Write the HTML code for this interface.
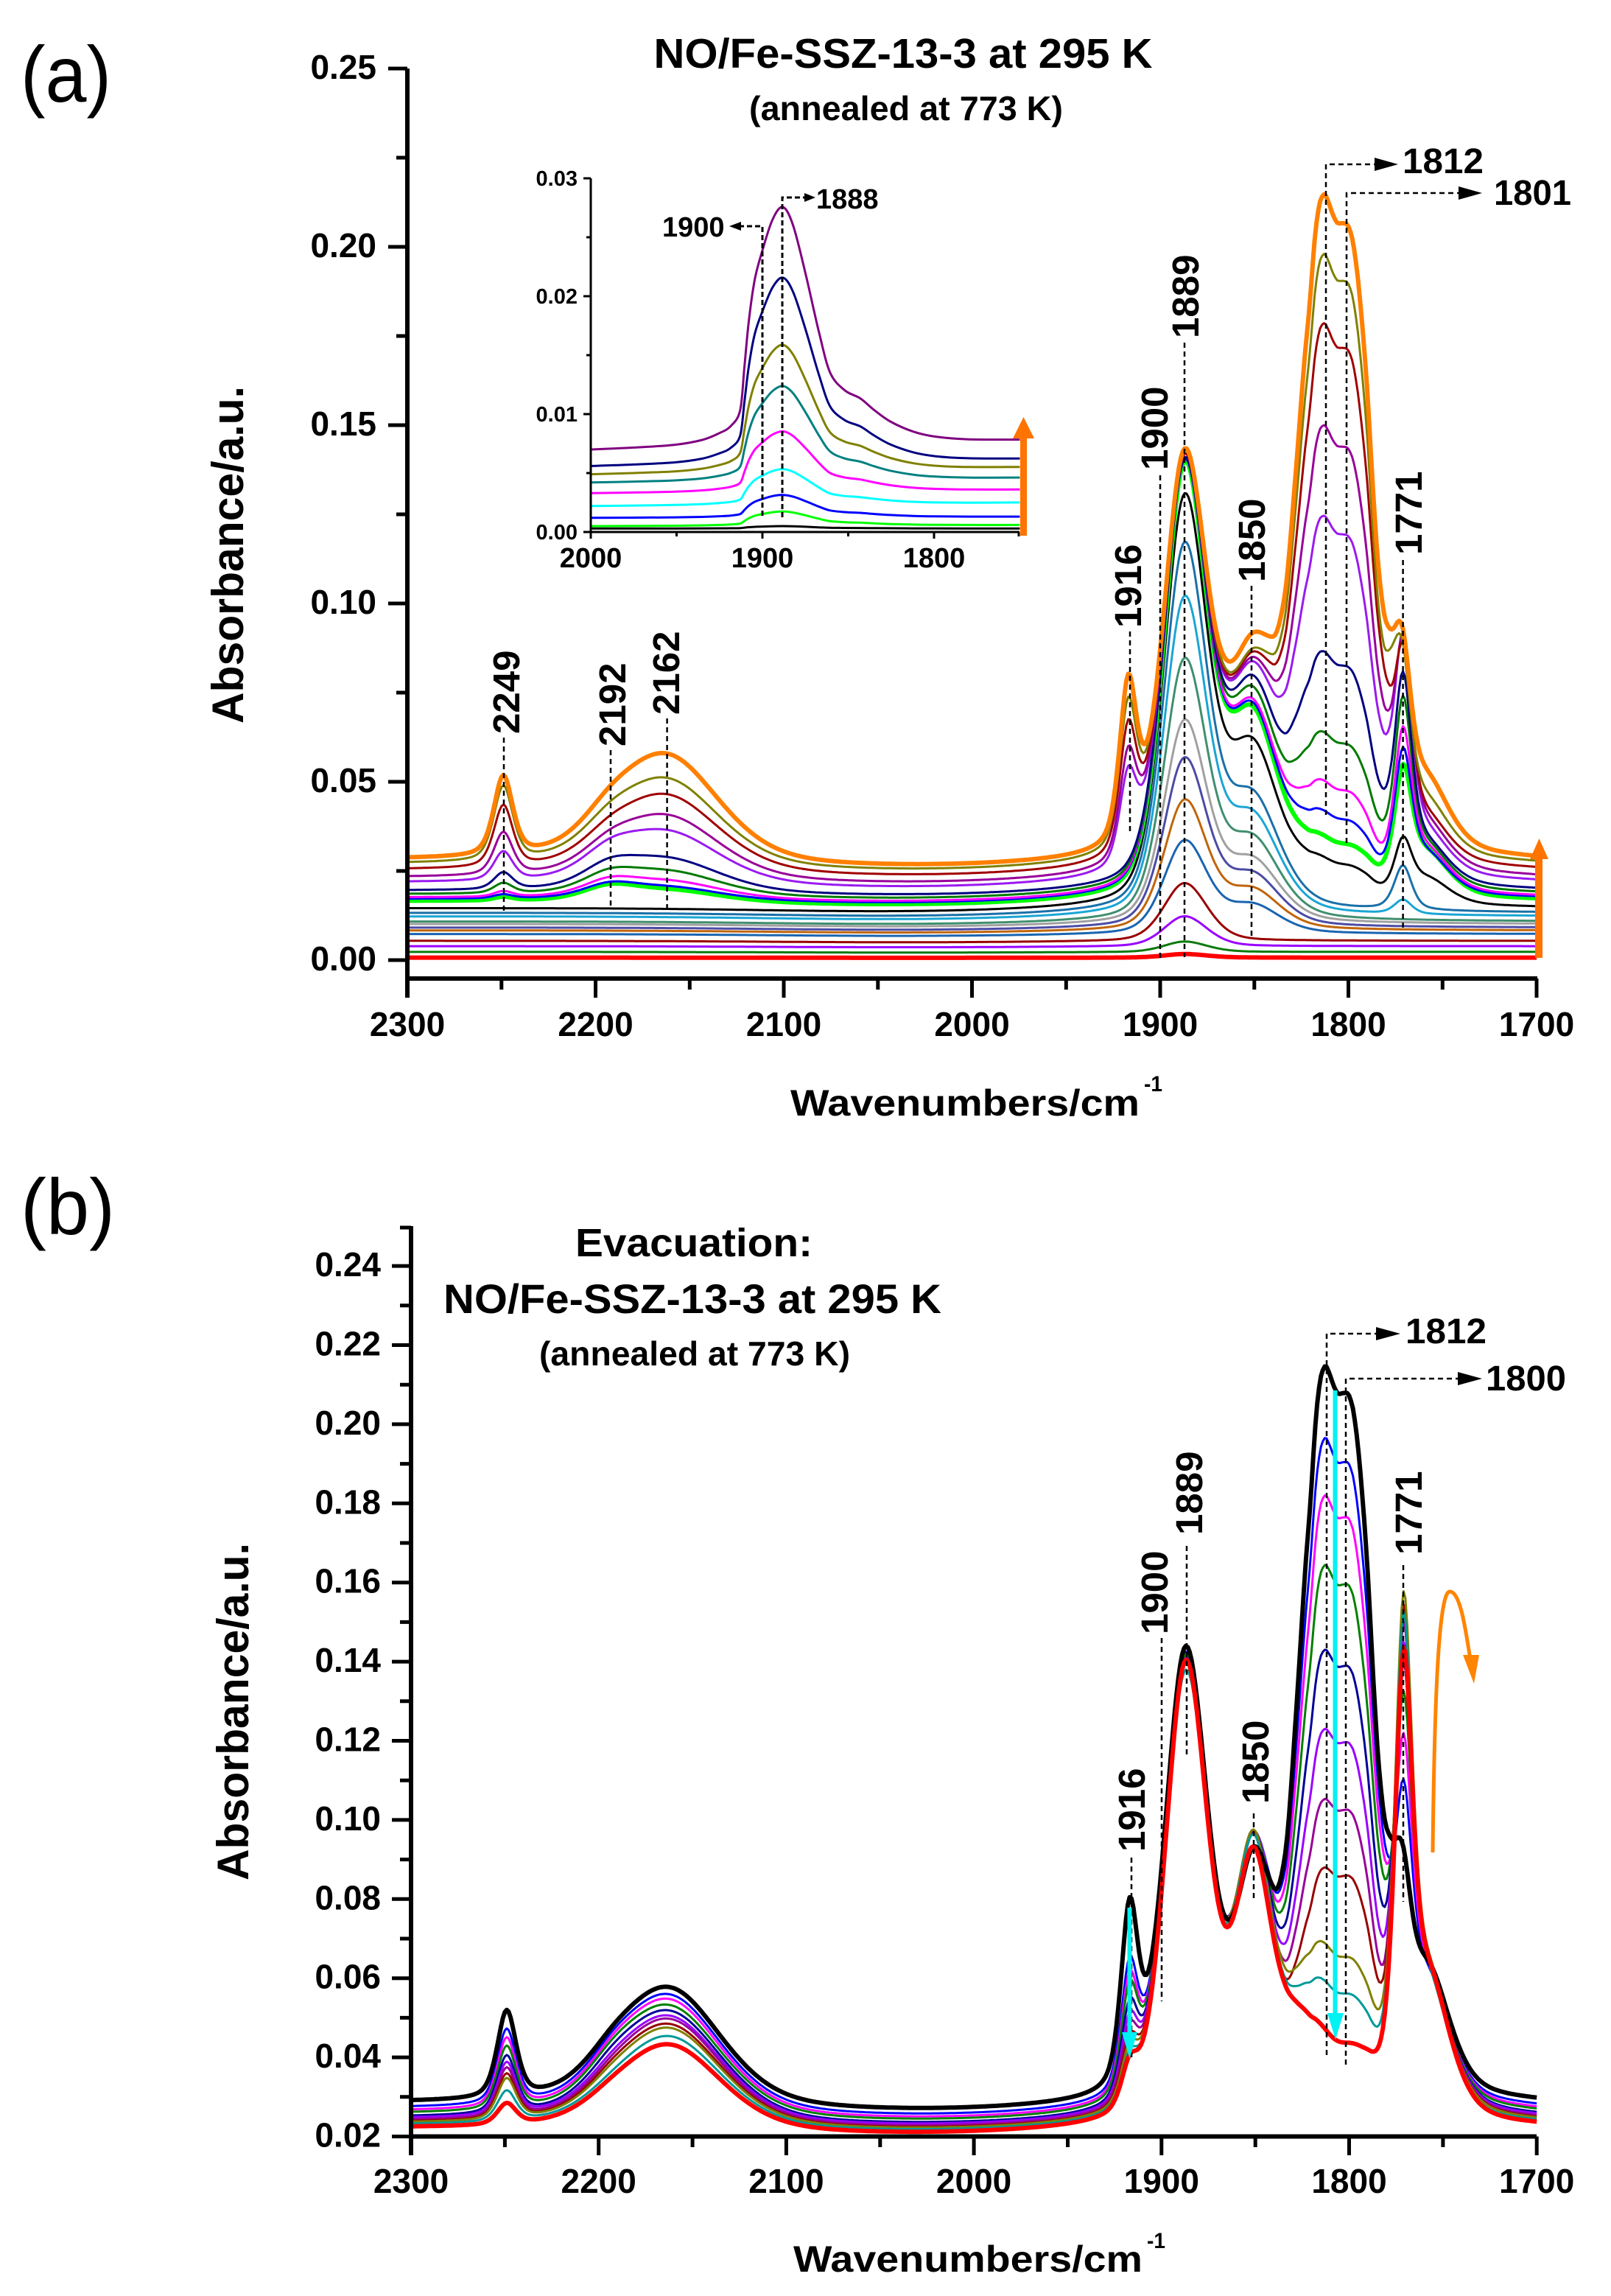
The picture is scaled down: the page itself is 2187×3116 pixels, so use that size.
<!DOCTYPE html>
<html><head><meta charset="utf-8"><style>
html,body{margin:0;padding:0;background:#fff;}
svg{display:block;}
</style></head><body>
<svg id="chart" width="2187" height="3116" viewBox="0 0 2187 3116" xmlns="http://www.w3.org/2000/svg" font-family="'Liberation Sans', Arial, sans-serif" font-weight="bold">
<rect width="2187" height="3116" fill="#fff"/>

<!-- ================= PANEL A ================= -->
<text x="28" y="138" font-size="108" font-weight="normal" textLength="123" lengthAdjust="spacingAndGlyphs">(a)</text>
<text x="1226" y="92" font-size="57" text-anchor="middle" textLength="677" lengthAdjust="spacingAndGlyphs">NO/Fe-SSZ-13-3 at 295 K</text>
<text x="1230" y="163" font-size="46" text-anchor="middle" textLength="426" lengthAdjust="spacingAndGlyphs">(annealed at 773 K)</text>

<g id="ca"></g>

<g stroke="#000" fill="none">
<path d="M553 93V1354M553 1328H2087" stroke-width="6"/>
<path stroke-width="5" d="M527 1303H553M527 1061H553M527 819H553M527 577H553M527 335H553M527 93H553M538 1182H553M538 940H553M538 698H553M538 456H553M538 214H553M808.5 1328V1354M1064 1328V1354M1319.5 1328V1354M1575 1328V1354M1830.5 1328V1354M2086 1328V1354M680.8 1328V1343M936.3 1328V1343M1191.8 1328V1343M1447.3 1328V1343M1702.8 1328V1343M1958.3 1328V1343"/>
</g>
<g font-size="46" text-anchor="end">
<text x="511" y="1317">0.00</text><text x="511" y="1075">0.05</text><text x="511" y="833">0.10</text><text x="511" y="591">0.15</text><text x="511" y="349">0.20</text><text x="511" y="107">0.25</text>
</g>
<g font-size="46" text-anchor="middle">
<text x="553" y="1406">2300</text><text x="808.5" y="1406">2200</text><text x="1064" y="1406">2100</text><text x="1319.5" y="1406">2000</text><text x="1575" y="1406">1900</text><text x="1830.5" y="1406">1800</text><text x="2086" y="1406">1700</text>
</g>
<text transform="translate(330 982) rotate(-90)" font-size="60" textLength="458" lengthAdjust="spacingAndGlyphs">Absorbance/a.u.</text>
<text x="1073" y="1514" font-size="50" textLength="474" lengthAdjust="spacingAndGlyphs">Wavenumbers/cm</text>
<text x="1553" y="1481" font-size="30" textLength="25" lengthAdjust="spacingAndGlyphs">-1</text>

<!-- dashed markers a -->
<path d="M684 1001V1238M829 1018V1230M905.6 975V1238M1534 857V1128M1575 645V1304M1608 465V1299M1699 795V1272M1904.6 760V1261M1800 1106V223H1866M1828 1144V262H1980" stroke="#000" stroke-width="2.5" stroke-dasharray="7 5" fill="none"/>
<polygon points="1866,214 1898,223 1866,232" fill="#000"/>
<polygon points="1980,253 2012,262 1980,271" fill="#000"/>
<text x="1904" y="235" font-size="48" textLength="110" lengthAdjust="spacingAndGlyphs">1812</text>
<text x="2028" y="278" font-size="48" textLength="105" lengthAdjust="spacingAndGlyphs">1801</text>
<g font-size="51">
<text transform="translate(705 996) rotate(-90)">2249</text>
<text transform="translate(849 1013) rotate(-90)">2192</text>
<text transform="translate(922 970) rotate(-90)">2162</text>
<text transform="translate(1549 852) rotate(-90)">1916</text>
<text transform="translate(1585 638) rotate(-90)">1900</text>
<text transform="translate(1627 459) rotate(-90)">1889</text>
<text transform="translate(1717 790) rotate(-90)">1850</text>
<text transform="translate(1930 753) rotate(-90)">1771</text>
</g>

<!-- inset -->
<g id="ci"></g>
<g stroke="#000" fill="none" stroke-width="3">
<path d="M802 242V731M802 722H1384"/>
<path d="M792 722H802M792 562H802M792 402H802M792 242H802M796 642H802M796 482H802M796 322H802M1035 722V731M1268 722V731M918.5 722V728M1151.5 722V728M1383 722V728"/>
</g>
<g font-size="29" text-anchor="end">
<text x="784" y="732">0.00</text><text x="784" y="572">0.01</text><text x="784" y="412">0.02</text><text x="784" y="252">0.03</text>
</g>
<g font-size="38" text-anchor="middle">
<text x="802" y="770">2000</text><text x="1035" y="770">1900</text><text x="1268" y="770">1800</text>
</g>
<path d="M1035 700V307H1004M1062 702V268H1093" stroke="#000" stroke-width="3" stroke-dasharray="7 4" fill="none"/>
<polygon points="1006,301 1006,313 990,307" fill="#000"/>
<polygon points="1092,262 1092,274 1107,268" fill="#000"/>
<text x="899" y="321" font-size="38">1900</text>
<text x="1108" y="283" font-size="38">1888</text>

<rect x="1385" y="592" width="9" height="135" fill="#ff7300"/>
<polygon points="1375,595 1404,595 1389.5,566" fill="#ff7300"/>
<rect x="2084" y="1163" width="10" height="137" fill="#ff7300"/>
<polygon points="2077,1166 2102,1166 2089.5,1138" fill="#ff7300"/>

<!-- ================= PANEL B ================= -->
<text x="28" y="1675" font-size="108" font-weight="normal" textLength="128" lengthAdjust="spacingAndGlyphs">(b)</text>
<text x="942" y="1705" font-size="54" text-anchor="middle" textLength="322" lengthAdjust="spacingAndGlyphs">Evacuation:</text>
<text x="940" y="1782" font-size="56" text-anchor="middle" textLength="676" lengthAdjust="spacingAndGlyphs">NO/Fe-SSZ-13-3 at 295 K</text>
<text x="943" y="1853" font-size="46" text-anchor="middle" textLength="422" lengthAdjust="spacingAndGlyphs">(annealed at 773 K)</text>

<g id="cb"></g>

<g stroke="#000" fill="none">
<path d="M558 1664V2925M558 2899.5H2086" stroke-width="6"/>
<path stroke-width="5" d="M532 2899.5H558M532 2792.1H558M532 2684.7H558M532 2577.3H558M532 2469.9H558M532 2362.5H558M532 2255.1H558M532 2147.7H558M532 2040.3H558M532 1932.9H558M532 1825.5H558M532 1718.1H558M543 2845.8H558M543 2738.4H558M543 2631H558M543 2523.6H558M543 2416.2H558M543 2308.8H558M543 2201.4H558M543 2094H558M543 1986.6H558M543 1879.2H558M543 1771.8H558M543 1666H558M812.7 2899.5V2925M1067.4 2899.5V2925M1322.1 2899.5V2925M1576.8 2899.5V2925M1831.5 2899.5V2925M2086.2 2899.5V2925M685.4 2899.5V2914M940.1 2899.5V2914M1194.8 2899.5V2914M1449.5 2899.5V2914M1704.2 2899.5V2914M1958.9 2899.5V2914"/>
</g>
<g font-size="46" text-anchor="end">
<text x="517" y="2913.5">0.02</text><text x="517" y="2806">0.04</text><text x="517" y="2698.7">0.06</text><text x="517" y="2591.3">0.08</text><text x="517" y="2483.9">0.10</text><text x="517" y="2376.5">0.12</text><text x="517" y="2269">0.14</text><text x="517" y="2161.7">0.16</text><text x="517" y="2054.3">0.18</text><text x="517" y="1946.9">0.20</text><text x="517" y="1839.5">0.22</text><text x="517" y="1732">0.24</text>
</g>
<g font-size="46" text-anchor="middle">
<text x="558" y="2976">2300</text><text x="812.7" y="2976">2200</text><text x="1067.4" y="2976">2100</text><text x="1322.1" y="2976">2000</text><text x="1576.8" y="2976">1900</text><text x="1831.5" y="2976">1800</text><text x="2086.2" y="2976">1700</text>
</g>
<text transform="translate(337 2552) rotate(-90)" font-size="60" textLength="458" lengthAdjust="spacingAndGlyphs">Absorbance/a.u.</text>
<text x="1077" y="3083" font-size="50" textLength="474" lengthAdjust="spacingAndGlyphs">Wavenumbers/cm</text>
<text x="1557" y="3051" font-size="30" textLength="25" lengthAdjust="spacingAndGlyphs">-1</text>

<path d="M1611 2098V2381M1577 2223V2716M1905 2124V2581M1536 2521V2794M1702 2461V2581M1801 2789V1810H1868M1827 2802V1871H1979" stroke="#000" stroke-width="2.5" stroke-dasharray="7 5" fill="none"/>
<polygon points="1868,1801 1901,1810 1868,1819" fill="#000"/>
<polygon points="1979,1862 2012,1871 1979,1880" fill="#000"/>
<text x="1908" y="1823" font-size="48" textLength="110" lengthAdjust="spacingAndGlyphs">1812</text>
<text x="2017" y="1887" font-size="48" textLength="109" lengthAdjust="spacingAndGlyphs">1800</text>
<g font-size="51">
<text transform="translate(1632 2083) rotate(-90)">1889</text>
<text transform="translate(1585 2218) rotate(-90)">1900</text>
<text transform="translate(1930 2110) rotate(-90)">1771</text>
<text transform="translate(1554 2513) rotate(-90)">1916</text>
<text transform="translate(1722 2448) rotate(-90)">1850</text>
</g>

<rect x="1809.5" y="1887" width="6" height="848" fill="#00f2f2"/>
<polygon points="1802,2732 1824,2732 1813,2768" fill="#00f2f2"/>
<rect x="1530.5" y="2589" width="6" height="172" fill="#00f2f2"/>
<polygon points="1523,2758 1544,2758 1533.5,2794" fill="#00f2f2"/>

<path d="M1945 2514C1947 2330 1952 2160 1968 2160C1983 2160 1990 2215 1996 2252" stroke="#ff8400" stroke-width="5" fill="none"/>
<polygon points="1986,2246 2008,2246 2001,2285" fill="#ff8400"/>
</svg>

<script>
(function(){
var NS='http://www.w3.org/2000/svg';
function pv(w,c,h,e){var x=(w-c)/h,x2=x*x;return e/(1+x2)+(1-e)*Math.exp(-0.6931*x2);}
function pva(w,c,hl,hr,e){return pv(w,c,w>c?hl:hr,e);}
function pchip(knots){
 var k=knots.slice().sort(function(a,b){return a[0]-b[0];});var n=k.length;
 var x=k.map(function(p){return p[0];}),y=k.map(function(p){return p[1];});
 var h=[],d=[],m=[],i;
 for(i=0;i<n-1;i++){h[i]=x[i+1]-x[i];d[i]=(y[i+1]-y[i])/h[i];}
 m[0]=d[0];m[n-1]=d[n-2];
 for(i=1;i<n-1;i++){if(d[i-1]*d[i]<=0)m[i]=0;else{var w1=2*h[i]+h[i-1],w2=h[i]+2*h[i-1];m[i]=(w1+w2)/(w1/d[i-1]+w2/d[i]);}}
 return function(v){if(v<=x[0])return y[0];if(v>=x[n-1])return y[n-1];var j=0;while(v>x[j+1])j++;
  var t=(v-x[j])/h[j],t2=t*t,t3=t2*t;
  return (2*t3-3*t2+1)*y[j]+(t3-2*t2+t)*h[j]*m[j]+(-2*t3+3*t2)*y[j+1]+(t3-t2)*h[j]*m[j+1];};
}
var band=pchip([[1870,0],[1860,0.01],[1850,0.04],[1840,0.12],[1834,0.25],[1828,0.5],[1823,0.72],[1821,0.79],[1817,0.945],[1814.5,0.99],[1812.5,1],[1810.5,0.99],[1808,0.972],[1805.5,0.962],[1803,0.963],[1801,0.962],[1798.5,0.945],[1796,0.9],[1792.5,0.79],[1790,0.68],[1787,0.5],[1784,0.33],[1780,0.17],[1775,0.07],[1768,0.03],[1755,0.012],[1730,0.004],[1700,0]]);
function makeF(h50){return {
 '1887':function(w){return pva(w,1887,13,14,.3);},
 '1850':function(w){return pv(w,1851,h50,.4);},
 '1918':function(w){return pv(w,1917,5.5,.5);},
 '1830':function(w){return pv(w,1829,12,.3);},
 '1813':function(w){return band(w);},
 '1781':function(w){return pv(w,1781,6,.3);},
 '1776':function(w){return pv(w,1776,5,.3);},
 '1771':function(w){return pv(w,1771,5.5,.5);},
 '1748':function(w){return pv(w,1758,14,.5);},
 '2249':function(w){return pv(w,2249,6,.5);},
 '2163':function(w){return pv(w,2163,33,.3);},
 '2192':function(w){return pv(w,2193,16,.3);}
};}
function base(w,b){return b*(1-0.08*Math.exp(-Math.pow((w-2030)/110,2)));}
function gauss(M,r){var n=r.length;var A=M.map(function(row,i){return row.concat([r[i]]);});
 for(var c=0;c<n;c++){var p=c;for(var i=c+1;i<n;i++)if(Math.abs(A[i][c])>Math.abs(A[p][c]))p=i;var t=A[c];A[c]=A[p];A[p]=t;
  for(i=0;i<n;i++){if(i===c)continue;var f=A[i][c]/A[c][c];for(var j=c;j<=n;j++)A[i][j]-=f*A[c][j];}}
 return A.map(function(row,i){return row[n]/row[i];});}
function solve(F,t,b){var keys=Object.keys(t);var amp={};
 for(var it=0;it<14;it++){if(!keys.length){amp={};break;}
  var M=keys.map(function(ki){return keys.map(function(kj){return F[kj](+ki);});});
  var r=keys.map(function(k){return t[k]-base(+k,b);});
  var x=gauss(M,r);amp={};var neg=[];
  keys.forEach(function(k,i){amp[k]=x[i];if(!(x[i]>=0))neg.push(k);});
  if(!neg.length)break;
  keys=keys.filter(function(k){return neg.indexOf(k)<0;});}
 for(var k in amp){if(!(amp[k]>0))delete amp[k];}
 return amp;}
function spectrum(F,b,t,X,Y){var amp=solve(F,t,b);var d='';
 for(var w=2300;w>=1700;w-=1){var v=base(w,b);for(var k in amp)v+=amp[k]*F[k](w);
  d+=(w===2300?'M':'L')+X(w).toFixed(1)+' '+Y(v).toFixed(1);}
 return d;}
function addPath(g,d,col,sw){var p=document.createElementNS(NS,'path');p.setAttribute('d',d);p.setAttribute('stroke',col);
 p.setAttribute('stroke-width',sw);p.setAttribute('fill','none');p.setAttribute('stroke-linejoin','round');g.appendChild(p);}

/* ---------- panel a ---------- */
var Fa=makeF(17);
var Xa=function(w){return 553+(2300-w)*2.555;};
var Ya=function(v){return 1303-v*4840;};
var A=[
 ['#ff0000',6,0.0007,{1887:0.0017}],
 ['#0a7a0a',3,0.0023,{1887:0.0052}],
 ['#9900ff',3,0.0039,{1887:0.0123}],
 ['#990000',3,0.0054,{1887:0.0216}],
 ['#1a64b0',3,0.0073,{1887:0.0337}],
 ['#c0650a',3,0.0083,{1887:0.0451}],
 ['#4b4ba5',3,0.0091,{1887:0.0569}],
 ['#a0a0a0',3,0.0101,{1887:0.0675}],
 ['#3f8f6f',3,0.0108,{1887:0.0848}],
 ['#1aa5d5',3,0.0122,{1887:0.1022,1771:0.017}],
 ['#1a70a8',3,0.0132,{1887:0.1173,1771:0.0266}],
 ['#000000',3,0.0145,{1887:0.1309,1850:0.062,1813:0.029,1781:0.022,1771:0.0347,1748:0.0205}],
 ['#00ff00',6,0.0165,{1887:0.140,1850:0.0708,1813:0.035,1781:0.027,1771:0.055,1748:0.026,2163:0.0201,2192:0.0214,2249:0.0178}],
 ['#0000ff',3,0.0171,{1887:0.1405,1850:0.072,1813:0.042,1781:0.029,1771:0.0597,1748:0.026,2163:0.0209,2192:0.022,2249:0.0185}],
 ['#ff00ff',3,0.0175,{1887:0.141,1850:0.073,1813:0.0504,1781:0.033,1771:0.0656,1748:0.027,2163:0.0226,2192:0.0234,2249:0.0194}],
 ['#007a00',3,0.0184,{1887:0.141,1850:0.0765,1813:0.064,1781:0.0395,1771:0.0742,1748:0.028,2163:0.0254,2192:0.0258,2249:0.0217}],
 ['#000080',3,0.0194,{1887:0.141,1850:0.0797,1813:0.0866,1781:0.048,1771:0.081,1748:0.029,2163:0.029,2192:0.0288,2249:0.0247}],
 ['#9a1af0',3,0.0217,{1887:0.142,1850:0.0837,1918:0.053,1813:0.1246,1781:0.0636,1771:0.092,1748:0.032,2163:0.0366,2192:0.0343,2249:0.0306}],
 ['#990099',3,0.0231,{1887:0.142,1850:0.085,1918:0.0585,1813:0.150,1781:0.0715,1771:0.091,1748:0.034,2163:0.0409,2192:0.0368,2249:0.036}],
 ['#a00000',3,0.0252,{1887:0.142,1850:0.0866,1918:0.0658,1813:0.1786,1781:0.082,1771:0.089,1748:0.036,2163:0.0466,2192:0.0407,2249:0.0436}],
 ['#808000',3,0.0269,{1887:0.143,1850:0.0876,1918:0.072,1813:0.198,1781:0.088,1776:0.089,1771:0.0888,1748:0.0395,2163:0.0512,2192:0.0446,2249:0.049}],
 ['#ff8000',6,0.0281,{1887:0.1435,1850:0.092,1918:0.0783,1813:0.2147,1781:0.097,1776:0.093,1771:0.0928,1748:0.044,2163:0.058,2192:0.049,2249:0.0519}]
];
var ga=document.getElementById('ca');
A.forEach(function(c){var t=c[3];
 if(t[1850]===undefined && t[1887]-c[2]>0.02) t[1850]=c[2]+0.33*(t[1887]-c[2]);
 addPath(ga,spectrum(Fa,c[2],t,Xa,Ya),c[0],c[1]);});

/* ---------- panel b ---------- */
var Fb=makeF(12);
var Xb=function(w){return 558+(2300-w)*2.547;};
var Yb=function(v){return 2899.5-(v-0.02)*5370;};
function tb(a,b,c,d,x,e,f,g,h,i){return {1887:a,1850:b,1918:c,1813:d,1781:x,1771:e,1748:f,2249:g,2163:h,2192:i};}
var B=[
 ['#0000ff',3,0.0270,tb(.1425,.097,.0639,.1965,.094,.1103,.050,.0473,.056,.047)],
 ['#ff00ff',3,0.0262,tb(.142,.097,.0604,.182,.090,.122,.050,.0451,.0548,.046)],
 ['#008000',3,0.0256,tb(.142,.097,.058,.1644,.085,.1326,.050,.043,.0533,.045)],
 ['#000099',3,0.0247,tb(.141,.097,.0536,.143,.078,.14,.050,.0406,.0519,.0435)],
 ['#9900ff',3,0.0243,tb(.141,.097,.0503,.123,.071,.145,.050,.0389,.0506,.042)],
 ['#990099',3,0.0238,tb(.141,.097,.0478,.1053,.064,.15,.050,.0375,.0498,.041)],
 ['#990000',3,0.0234,tb(.140,.097,.045,.088,.057,.1544,.050,.036,.0485,.040)],
 ['#808000',3,0.0232,tb(.140,.0972,.043,.0689,.051,.1578,.050,.0348,.0475,.039)],
 ['#009999',3,0.0228,tb(.138,.096,.041,.0594,.046,.1525,.048,.0317,.0454,.037)],
 ['#000000',6,0.0285,tb(.144,.0933,.0785,.2146,.100,.093,.052,.052,.0578,.0483)],
 ['#ff0000',6,0.0221,tb(.1404,.0929,.0396,.0473,.045,.1436,.049,.0285,.0433,.0355)]
];
B[7][3][1830]=0.062; B[8][3][1830]=0.058; B[10][3][1830]=0.055;
B[9][3][1776]=0.095;
var gb=document.getElementById('cb');
B.forEach(function(c){addPath(gb,spectrum(Fb,c[2],c[3],Xb,Yb),c[0],c[1]);});

/* ---------- inset ---------- */
var Xi=function(w){return 802+(2000-w)*2.33;};
var Yi=function(v){return 722-v*16000;};
var U=[[2000,0],[1975,0.004],[1951,0.012],[1935,0.03],[1925,0.057],[1918.5,0.085],[1913,0.15],[1910.5,0.33],[1908,0.52],[1904.4,0.70],[1900,0.82],[1894,0.95],[1888,1],[1882,0.92],[1874.6,0.71],[1867,0.47],[1860.5,0.30],[1852,0.225],[1843,0.19],[1835,0.14],[1825.5,0.09],[1812,0.045],[1799,0.022],[1780,0.008],[1750,0.002]];
function cr(pts){var d='M'+pts[0][0].toFixed(1)+' '+pts[0][1].toFixed(1);
 for(var i=0;i<pts.length-1;i++){var p0=pts[i-1]||pts[i],p1=pts[i],p2=pts[i+1],p3=pts[i+2]||p2;
  var c1x=p1[0]+(p2[0]-p0[0])/6,c1y=p1[1]+(p2[1]-p0[1])/6,c2x=p2[0]-(p3[0]-p1[0])/6,c2y=p2[1]-(p3[1]-p1[1])/6;
  d+='C'+c1x.toFixed(1)+' '+c1y.toFixed(1)+' '+c2x.toFixed(1)+' '+c2y.toFixed(1)+' '+p2[0].toFixed(1)+' '+p2[1].toFixed(1);}
 return d;}
var I=[
 ['#000000',3,0.0003,0.0003,0.0002],
 ['#00ff00',3,0.0005,0.0006,0.0012],
 ['#0000ff',3,0.0012,0.0013,0.0019],
 ['#00ffff',3,0.0022,0.0025,0.0030],
 ['#ff00ff',3,0.0033,0.0036,0.0051],
 ['#008080',3,0.0042,0.0046,0.0080],
 ['#808000',3,0.0049,0.0055,0.0107],
 ['#000080',3,0.0056,0.0062,0.0157],
 ['#800080',3,0.0070,0.0078,0.0202]
];
var gi=document.getElementById('ci');
I.forEach(function(c){var pts=U.map(function(k){var w=k[0];var b=c[2]+(c[3]-c[2])*(2000-w)/250;return [Xi(w),Yi(b+c[4]*k[1])];});
 addPath(gi,cr(pts),c[0],c[1]);});
})();
</script>
</body></html>
